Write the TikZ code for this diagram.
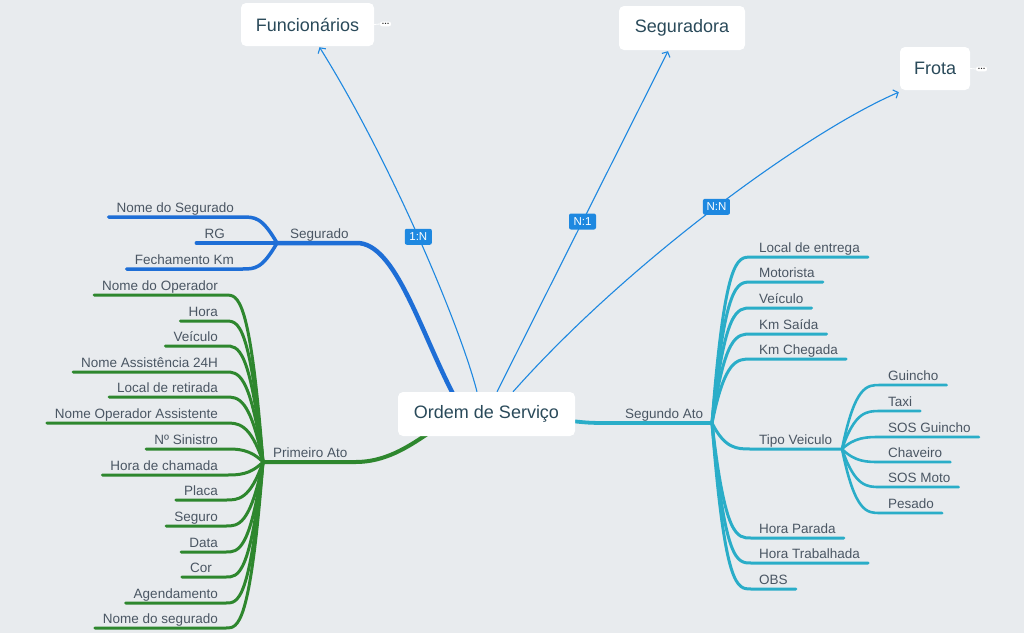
\documentclass[tikz,border=0pt]{standalone}
\usepackage{fontspec}
\setmainfont{Liberation Sans}
\usetikzlibrary{arrows.meta}
\pgfdeclarelayer{bg}
\pgfdeclarelayer{lines}
\pgfsetlayers{bg,lines,main}
\definecolor{bgc}{HTML}{E8EBEE}
\definecolor{boxtxt}{HTML}{2A4A5A}
\definecolor{leaftxt}{HTML}{4A5663}
\definecolor{blu}{HTML}{1E6ED6}
\definecolor{grn}{HTML}{2E872E}
\definecolor{cyn}{HTML}{2AADC8}
\definecolor{relc}{HTML}{1E88E0}
\begin{document}
\begin{tikzpicture}[x=1pt,y=-1pt,
  box/.style={fill=white, rounded corners=5pt, text=boxtxt, font=\fontsize{18}{21}\selectfont, inner sep=0pt},
  leaf/.style={text=leaftxt, font=\fontsize{13.5}{16}\selectfont, inner xsep=8pt, inner ysep=0pt},
  lblL/.style={leaf, anchor=base east},
  lblR/.style={leaf, anchor=base west},
  rel/.style={draw=relc, line width=1.1pt, -{Straight Barb[length=4pt,width=9pt]}},
  relbox/.style={fill=relc, text=white, rounded corners=2pt, font=\fontsize{11.5}{12}\selectfont, minimum width=27pt, minimum height=16pt, inner xsep=3pt, inner ysep=0pt},
  dots/.style={fill=white, rounded corners=2pt, text=black!85, font=\bfseries\fontsize{8}{9}\selectfont, inner xsep=1.5pt, inner ysep=1.6pt, text height=1.2pt, text depth=0.2pt},
  gbr/.style={draw=grn, line width=3pt, line cap=round},
  gmain/.style={draw=grn, line width=4pt, line cap=round},
  bbr/.style={draw=blu, line width=3.5pt, line cap=round},
  bmain/.style={draw=blu, line width=4.5pt, line cap=round},
  cbr/.style={draw=cyn, line width=3pt, line cap=round},
  cmain/.style={draw=cyn, line width=3.8pt, line cap=round},
  tbr/.style={draw=cyn, line width=2.6pt, line cap=round}
]
\begin{pgfonlayer}{bg}
\fill[bgc] (0,0) rectangle (1024,633);
\end{pgfonlayer}
\useasboundingbox (0,0) rectangle (1024,633);

% main boxes
\node[box, minimum width=177pt, minimum height=44pt] (os) at (486.5,414) {Ordem de Serviço};
\node[box, minimum width=133pt, minimum height=43pt] (fun) at (307.5,24.5) {Funcionários};
\node[box, minimum width=126pt, minimum height=44pt] (seg) at (682,28) {Seguradora};
\node[box, minimum width=70pt, minimum height=43pt] (fro) at (935,68.5) {Frota};
\node[dots] (fundots) at (385.5,24) {…};
\node[dots] (frodots) at (981.5,69) {…};

% junctions
\coordinate (jB) at (277,243);
\coordinate (jG) at (263,462);
\coordinate (jC) at (712,423);
\coordinate (jT) at (842,449);

% branch labels
\node[lblR] (segurado) at (282,238.5) {Segurado};
\node[lblR] (primeiro) at (265,457.5) {Primeiro Ato};
\node[lblR] (segundo) at (617,418.5) {Segundo Ato};
\node[lblR] (tipo) at (751,444.5) {Tipo Veiculo};

% blue leaves
\node[lblL] (b1) at (242,212.5) {Nome do Segurado};
\node[lblL] (b2) at (233,238.5) {RG};
\node[lblL] (b3) at (242,264.5) {Fechamento Km};

% green leaves
\foreach \i/\x/\y/\t in {1/226/295/Nome do Operador, 2/226/321/Hora, 3/226/346/Veículo,
  4/226/372/Nome Assistência 24H, 5/226/397/Local de retirada, 6/226/423/Nome Operador Assistente,
  7/226/449/Nº Sinistro, 8/226/475/Hora de chamada, 9/226/500/Placa, 10/226/526/Seguro,
  11/226/552/Data, 12/220/577/Cor, 13/226/603/Agendamento, 14/226/628/Nome do segurado}
  {\node[lblL] (g\i) at (\x,{\y-4.5}) {\t};}

% cyan leaves
\foreach \i/\y/\t in {1/257/Local de entrega, 2/282/Motorista, 3/308/Veículo, 4/334/Km Saída,
  5/359/Km Chegada, 7/538/Hora Parada, 8/563/Hora Trabalhada, 9/589/OBS}
  {\node[lblR] (c\i) at (751,{\y-4.5}) {\t};}

% tipo leaves
\foreach \i/\y/\t in {1/385/Guincho, 2/411/Taxi, 3/437/SOS Guincho, 4/462/Chaveiro,
  5/487/SOS Moto, 6/513/Pesado}
  {\node[lblR] (t\i) at (880,{\y-4.5}) {\t};}

\begin{pgfonlayer}{lines}
% dots connectors
\draw[white, line width=0.8pt] (fun.east) -- (fundots.west);
\draw[white, line width=0.8pt] (fro.east) -- (frodots.west);

% relationships
\draw[rel] ([xshift=-9.5pt]os.north) .. controls (460,325) and (390,160) .. ([xshift=12pt,yshift=-1pt]fun.south)
  node[relbox, pos=0.5] (r1) {1:N};
\draw[rel] ([xshift=10.5pt]os.north) -- ([xshift=-14pt,yshift=-1pt]seg.south)
  node[relbox, pos=0.5] (r2) {N:1};
\draw[rel] ([xshift=26.5pt]os.north) .. controls (630,260) and (810,130) .. ([xshift=-1pt,yshift=-2pt]fro.south west)
  node[relbox, pos=0.5] (r3) {N:N};

% blue branch
\draw[bmain] (jB) -- ([yshift=-4.5pt]segurado.base east) .. controls (395,243) and (420,330) .. ([xshift=-33.5pt,yshift=-2pt]os.north);
\draw[bbr] (jB) .. controls (262,217) and (255,217) .. ([yshift=-4.5pt]b1.base east) -- ([yshift=-4.5pt]b1.base west);
\draw[bbr] (jB) -- ([yshift=-4.5pt]b2.base west);
\draw[bbr] (jB) .. controls (262,269) and (255,269) .. ([yshift=-4.5pt]b3.base east) -- ([yshift=-4.5pt]b3.base west);

% green branch
\draw[gmain] (jG) -- ([yshift=-4.5pt]primeiro.base east) .. controls (385,462) and (408,447) .. ([xshift=-59.5pt,yshift=2pt]os.south);
\foreach \i/\y in {1/295,2/321,3/346,4/372,5/397,6/423,7/449,8/475,9/500,10/526,11/552,12/577,13/603,14/628}
  {\draw[gbr] (jG) .. controls (250,\y) and (238,\y) .. (226,\y) -- ([yshift=-4.5pt]g\i.base west);}

% cyan branch
\draw[cmain] ([xshift=-4pt,yshift=-7pt]os.east) .. controls (590,423) .. ([yshift=-4.5pt]segundo.base west) -- (jC);
\foreach \i/\y in {1/257,2/282,3/308,4/334,5/359,7/538,8/563,9/589}
  {\draw[cbr] (jC) .. controls (725,\y) and (737,\y) .. ([yshift=-4.5pt]c\i.base west) -- ([yshift=-4.5pt]c\i.base east);}
\draw[cbr] (jC) .. controls (725,449) and (737,449) .. ([yshift=-4.5pt]tipo.base west) -- (jT);
\foreach \i/\y in {1/385,2/411,3/437,4/462,5/487,6/513}
  {\draw[tbr] (jT) .. controls (855,\y) and (867,\y) .. ([yshift=-4.5pt]t\i.base west) -- ([yshift=-4.5pt]t\i.base east);}
\end{pgfonlayer}
\end{tikzpicture}
\end{document}
